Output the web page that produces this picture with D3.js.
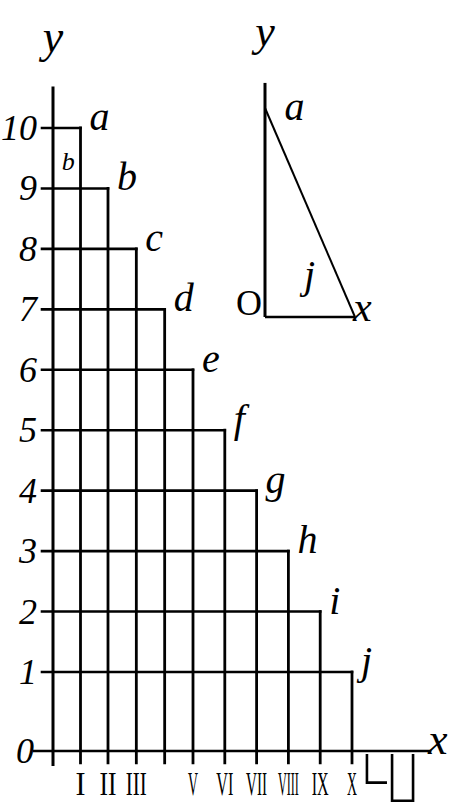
<!DOCTYPE html>
<html>
<head>
<meta charset="utf-8">
<script src="https://cdn.jsdelivr.net/npm/d3@7"></script>
<style>
  body { margin: 0; background: #fff; }
  svg { display: block; }
  text { fill: #000; }
</style>
</head>
<body>
<svg id="chart" width="454" height="802"></svg>
<script>
// data
const columnLetters = ["a", "b", "c", "d", "e", "f", "g", "h", "i", "j"];
const columnHeights = [10, 9, 8, 7, 6, 5, 4, 3, 2, 1];
const levelTicks = [0, 1, 2, 3, 4, 5, 6, 7, 8, 9, 10];
const levelLabels = ["0", "1", "2", "3", "4", "5", "6", "7", "8", "9", "10"];
const romanLabels = ["I", "II", "III", "", "V", "VI", "VII", "VIII", "IX", "X"];
// small pieces drawn under the x axis, right of the last column
const underX0 = [10.47, 11.26];
const underX1 = [11.1, 11.92];
const underDepth = [0.4, 0.63];
const underClosed = [false, true];
// small triangle on the right
const insetA = 10;   // height of a
const insetX = 3;    // length of O-x

let chart = d3.select("#chart");
const hand = "'Liberation Serif', 'DejaVu Serif', serif";

//scales of the main figure (hand drawn, so steps are not all equal)
let x = d3.scaleLinear()
            .domain([0, 2, 5, 10])        //input
            .range([53, 108, 193, 352]);  //output
let y = d3.scaleLinear()
            .domain([0, 1, 10])           //input (first step drawn taller)
            .range([751, 672, 128]);

let g = chart.append("g")
            .attr("stroke", "#000")
            .attr("stroke-linecap", "square")
            .attr("fill", "none");

//y axis
g.append("line")
    .attr("x1", x(0)).attr("x2", x(0))
    .attr("y1", y(10.66)).attr("y2", y(-0.17))
    .attr("stroke-width", 3);

//x axis (level 0)
g.append("line")
    .attr("x1", 34).attr("x2", x(12.45))
    .attr("y1", y(0)).attr("y2", y(0))
    .attr("stroke-width", 2.6);

//horizontal lines of each level, from the tick to the right edge of its column
g.selectAll(".level")
    .data(columnHeights)
    .enter()
    .append("line")
        .attr("class", "level")
        .attr("x1", 42)
        .attr("x2", function(d, i) { return x(i + 1); })
        .attr("y1", function(d) { return y(d); })
        .attr("y2", function(d) { return y(d); })
        .attr("stroke-width", 2.6);

//vertical lines between columns
g.selectAll(".wall")
    .data(columnHeights)
    .enter()
    .append("line")
        .attr("class", "wall")
        .attr("x1", function(d, i) { return x(i + 1); })
        .attr("x2", function(d, i) { return x(i + 1); })
        .attr("y1", function(d) { return y(d); })
        .attr("y2", y(-0.15))
        .attr("stroke-width", 2.8);

//pieces under the axis
g.selectAll(".under")
    .data(underDepth)
    .enter()
    .append("path")
        .attr("class", "under")
        .attr("stroke-width", 2.6)
        .attr("stroke-linecap", "butt")
        .attr("d", function(d, i) {
            let p = d3.path();
            p.moveTo(x(underX0[i]), y(0) + 3);
            p.lineTo(x(underX0[i]), y(-d));
            p.lineTo(x(underX1[i]), y(-d));
            if (underClosed[i]) p.lineTo(x(underX1[i]), y(0) + 3);
            return p.toString();
        });

//level numbers
chart.selectAll(".levelLabel")
    .data(levelTicks)
    .enter()
    .append("text")
        .attr("class", "levelLabel")
        .attr("font-family", hand)
        .attr("font-style", "italic")
        .attr("font-size", "36px")
        .attr("text-anchor", "end")
        .attr("x", function(d) { return d == 0 ? 34 : 37; })
        .attr("y", function(d) { return y(d) + 12; })
        .text(function(d, i) { return levelLabels[i]; });

//column letters
chart.selectAll(".letter")
    .data(columnLetters)
    .enter()
    .append("text")
        .attr("class", "letter")
        .attr("font-family", hand)
        .attr("font-style", "italic")
        .attr("font-size", "40px")
        .attr("x", function(d, i) { return x(i + 1) + 9; })
        .attr("y", function(d, i) { return y(columnHeights[i]) + 2; })
        .text(function(d) { return d; });

//small letter inside the first column
chart.append("text")
    .attr("font-family", hand)
    .attr("font-style", "italic")
    .attr("font-size", "26px")
    .attr("text-anchor", "middle")
    .attr("x", x(0.55))
    .attr("y", y(9.3))
    .text("b");

//roman numerals under the column edges
chart.selectAll(".roman")
    .data(romanLabels)
    .enter()
    .append("text")
        .attr("class", "roman")
        .attr("font-family", hand)
        .attr("font-size", "33px")
        .attr("text-anchor", "middle")
        .attr("x", function(d, i) { return x(i + 1); })
        .attr("y", 795)
        .attr("textLength", function(d) { return Math.min(21, d.length * 7 + 3); })
        .attr("lengthAdjust", "spacingAndGlyphs")
        .text(function(d) { return d; });

//axis names
chart.append("text")
    .attr("font-family", hand)
    .attr("font-style", "italic")
    .attr("font-size", "46px")
    .attr("text-anchor", "middle")
    .attr("x", 53)
    .attr("y", 52)
    .text("y");

chart.append("text")
    .attr("font-family", hand)
    .attr("font-style", "italic")
    .attr("font-size", "44px")
    .attr("x", 428)
    .attr("y", 754)
    .text("x");

//the small triangle
let xi = d3.scaleLinear().domain([0, insetX]).range([265, 355]);
let yi = d3.scaleLinear().domain([0, insetA]).range([317, 108]);

let gi = chart.append("g")
            .attr("stroke", "#000")
            .attr("fill", "none");

gi.append("line")
    .attr("x1", xi(0)).attr("x2", xi(0))
    .attr("y1", yi(11.2)).attr("y2", yi(0))
    .attr("stroke-width", 3);

gi.append("line")
    .attr("x1", xi(0)).attr("x2", xi(insetX))
    .attr("y1", yi(0)).attr("y2", yi(0))
    .attr("stroke-width", 2.4);

gi.append("line")
    .attr("x1", xi(0)).attr("x2", xi(insetX))
    .attr("y1", yi(insetA)).attr("y2", yi(0))
    .attr("stroke-width", 2);

chart.append("text")
    .attr("font-family", hand)
    .attr("font-style", "italic")
    .attr("font-size", "44px")
    .attr("text-anchor", "middle")
    .attr("x", xi(0))
    .attr("y", 46)
    .text("y");

chart.append("text")
    .attr("font-family", hand)
    .attr("font-style", "italic")
    .attr("font-size", "40px")
    .attr("x", xi(0.65))
    .attr("y", yi(insetA) + 12)
    .text("a");

chart.append("text")
    .attr("font-family", hand)
    .attr("font-style", "italic")
    .attr("font-size", "40px")
    .attr("x", xi(1.3))
    .attr("y", 288)
    .text("j");

chart.append("text")
    .attr("font-family", hand)
    .attr("font-size", "36px")
    .attr("text-anchor", "end")
    .attr("x", xi(0) - 3)
    .attr("y", yi(0) - 2)
    .text("O");

chart.append("text")
    .attr("font-family", hand)
    .attr("font-style", "italic")
    .attr("font-size", "42px")
    .attr("x", xi(insetX) - 2)
    .attr("y", yi(0) + 4)
    .text("x");
</script>
</body>
</html>
